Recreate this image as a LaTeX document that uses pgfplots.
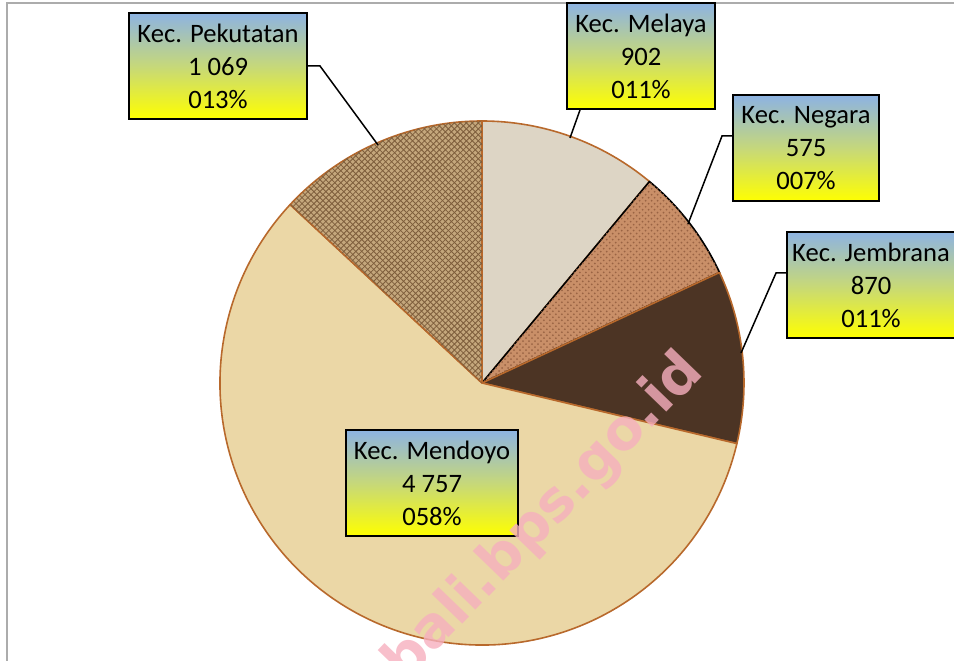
\documentclass[border=0pt]{standalone}
\usepackage{pgfplots}
\pgfplotsset{compat=1.18}
\usepackage{fontspec}
\setmainfont{Carlito}
\newfontfamily\wmfont{DejaVu Sans}
\usetikzlibrary{patterns}

\definecolor{cMel}{HTML}{DDD5C5}
\definecolor{cNeg}{HTML}{C98F68}
\definecolor{cJem}{HTML}{4C3424}
\definecolor{cMen}{HTML}{EBD7A6}
\definecolor{cPek}{HTML}{C4A77C}
\definecolor{cPekL}{HTML}{7E5E3C}
\definecolor{cNegD}{HTML}{9A6444}
\definecolor{cEdge}{HTML}{B8692C}
\definecolor{bTop}{HTML}{8DB3E2}
\definecolor{bMid}{HTML}{C6D87A}
\definecolor{bBot}{HTML}{FFFF00}
\definecolor{wm}{HTML}{F6AFBE}

\tikzset{
  sMel/.style={fill=cMel},
  sNeg/.style={fill=cNeg, postaction={pattern=crosshatch dots, pattern color=cNegD}},
  sJem/.style={fill=cJem},
  sMen/.style={fill=cMen},
  sPek/.style={fill=cPek, postaction={pattern=crosshatch, pattern color=cPekL}},
  lbl/.style={draw=black, line width=1bp, top color=bTop, bottom color=bBot, middle color=bMid,
    align=center, inner sep=0pt, minimum height=53bp,
    font=\fontsize{13.3bp}{16.5bp}\selectfont},
}

\begin{document}
\begin{tikzpicture}
\begin{axis}[
  width=477bp, height=330.5bp, scale only axis,
  xmin=0, xmax=954, ymin=0, ymax=661,
  hide axis, clip=false,
]
\coordinate (bl) at (axis cs:0,0);
\coordinate (tr) at (axis cs:954,661);
% frame
\draw[gray!65, line width=1bp] (axis cs:7,0) -- (axis cs:7,657.5) -- (axis cs:954,657.5);

% pie: values 902, 575, 870, 4757, 1069 (total 8173), clockwise from top
\pgfplotsextra{
  \gdef\cum{0}
  \foreach \v/\st/\ln in {902/sMel/cEdge, 575/sNeg/black, 870/sJem/cEdge, 4757/sMen/cEdge, 1069/sPek/cEdge}{
    \pgfmathsetmacro\a{90-\cum/8173*360}
    \pgfmathsetmacro\b{90-(\cum+\v)/8173*360}
    \path[\st, draw=\ln, line width=0.8bp, line join=round]
      (axis cs:482,278) -- ++(\a:131bp) arc[start angle=\a, end angle=\b, radius=131bp] -- cycle;
    \pgfmathsetmacro\nc{\cum+\v}
    \xdef\cum{\nc}
  }
}

% leader lines
\draw[black, line width=0.75bp] (axis cs:307,595) -- (axis cs:320,595) -- (axis cs:378,516);
\draw[black, line width=0.75bp] (axis cs:580,551) -- (axis cs:570,523);
\draw[black, line width=0.75bp] (axis cs:733,525) -- (axis cs:722,525) -- (axis cs:688,437);
\draw[black, line width=0.75bp] (axis cs:787,388) -- (axis cs:776,388) -- (axis cs:741,308);

% labels
\node[lbl, minimum width=89bp] at (axis cs:218,595) {Kec. Pekutatan\\1 069\\013\%};
\node[lbl, minimum width=74bp] at (axis cs:641,605) {Kec. Melaya\\902\\011\%};
\node[lbl, minimum width=73bp] at (axis cs:806,512.5) {Kec. Negara\\575\\007\%};
\node[lbl, minimum width=84bp] at (axis cs:871,376) {Kec. Jembrana\\870\\011\%};
\node[lbl, minimum width=86bp] at (axis cs:432,178) {Kec. Mendoyo\\4 757\\058\%};

% watermark
\node[rotate=46, text=wm, opacity=0.8, font=\wmfont\bfseries\fontsize{28bp}{28bp}\selectfont]
  at (axis cs:544,143) {bali.bps.go.id};
\end{axis}
\pgfresetboundingbox
\useasboundingbox (bl) rectangle (tr);
\end{tikzpicture}
\end{document}
